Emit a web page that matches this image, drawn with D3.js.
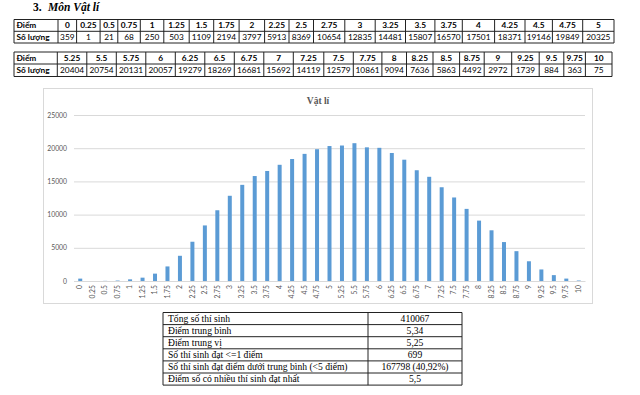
<!DOCTYPE html>
<html><head><meta charset="utf-8">
<script src="https://cdn.jsdelivr.net/npm/d3@7"></script>
<style>body{margin:0;background:#fff}svg{display:block}</style>
</head><body>
<script>
// ---------- data ----------
const scores = ["0","0.25","0.5","0.75","1","1.25","1.5","1.75","2","2.25","2.5","2.75","3","3.25","3.5","3.75","4","4.25","4.5","4.75","5",
  "5.25","5.5","5.75","6","6.25","6.5","6.75","7","7.25","7.5","7.75","8","8.25","8.5","8.75","9","9.25","9.5","9.75","10"];
const counts = [359,1,21,68,250,503,1109,2194,3797,5913,8369,10654,12835,14481,15807,16570,17501,18371,19146,19849,20325,
  20404,20754,20131,20057,19279,18269,16681,15692,14119,12579,10861,9094,7636,5863,4492,2972,1739,884,363,75];
const yTicks = [0,5000,10000,15000,20000,25000];
const rowHeaders = ["Điểm","Số lượng"];
const chartTitle = "Vật lí";
const sectionNum = "3.";
const sectionTitle = "Môn Vật lí";
const summaryLabels = ["Tổng số thí sinh","Điểm trung bình","Điểm trung vị","Số thí sinh đạt <=1 điểm",
  "Số thí sinh đạt điểm dưới trung bình (<5 điểm)","Điểm số có nhiều thí sinh đạt nhất"];
const summaryValues = ["410067","5,34","5,25","699","167798 (40,92%)","5,5"];

// ---------- layout ----------
const t1Edges = [14,58,76.6,100.1,117.8,140.3,163.8,189.2,213.7,239.1,264.6,289,313.5,344.8,375.2,405.5,434.9,462.3,494.6,525,552.4,582.7,614];
const t2Edges = [14,57.3,86.8,116.3,145.8,175.3,204.8,234.3,263.8,293.3,323.8,353.3,381.9,406.5,433,459.6,484.2,511.7,539.2,563.8,585.4,612];
const t1Rows = [19.5,31.3,43];
const t2Rows = [52,64,76.5];

const svg = d3.select("body").append("svg").attr("width",640).attr("height",395);

// section title
const tt = svg.append("text").attr("x",33).attr("y",11)
  .style("font-family","'Liberation Serif',serif").style("font-size","11.5px").style("font-weight","bold");
tt.append("tspan").text(sectionNum);
tt.append("tspan").attr("x",48).style("font-style","italic").text(sectionTitle);

function drawTable(edges, rows, labels, values){
  const g = svg.append("g");
  const x0 = edges[0], x1 = edges[edges.length-1];
  rows.forEach(y => g.append("line").attr("x1",x0).attr("x2",x1).attr("y1",y).attr("y2",y).attr("stroke","#222").attr("stroke-width",1));
  edges.forEach(x => g.append("line").attr("x1",x).attr("x2",x).attr("y1",rows[0]).attr("y2",rows[rows.length-1]).attr("stroke","#222").attr("stroke-width",1));
  const font = "Lato,'Liberation Sans',sans-serif";
  const fs = "8.3px";
  rowHeaders.forEach((h,i)=>{
    g.append("text").attr("x",edges[0]+2.5).attr("y",(rows[i]+rows[i+1])/2+3)
      .style("font-family",font).style("font-size",fs).style("font-weight","bold").text(h);
  });
  labels.forEach((l,j)=>{
    const cx = (edges[j+1]+edges[j+2])/2;
    g.append("text").attr("x",cx).attr("y",(rows[0]+rows[1])/2+3).attr("text-anchor","middle")
      .style("font-family",font).style("font-size",fs).style("font-weight","bold").text(l);
    g.append("text").attr("x",cx).attr("y",(rows[1]+rows[2])/2+3).attr("text-anchor","middle")
      .style("font-family",font).style("font-size",fs).text(values[j]);
  });
}
drawTable(t1Edges, t1Rows, scores.slice(0,21), counts.slice(0,21));
drawTable(t2Edges, t2Rows, scores.slice(21), counts.slice(21));

// ---------- chart ----------
svg.append("rect").attr("x",43.5).attr("y",88.5).attr("width",549).attr("height",215)
  .attr("fill","#fff").attr("stroke","#d9d9d9");
const px0 = 74, px1 = 585, py0 = 281, py1 = 115;
const x = d3.scaleBand().domain(scores).range([px0,px1]).paddingInner(0.68).paddingOuter(0.34);
const y = d3.scaleLinear().domain([0,25000]).range([py0,py1]);

const gy = svg.append("g").attr("transform",`translate(${px0},0)`)
  .call(d3.axisLeft(y).tickValues(yTicks).tickSize(-(px1-px0)).tickPadding(7).tickFormat(d3.format("d")));
gy.select(".domain").remove();
gy.selectAll(".tick line").attr("stroke","#d9d9d9");
gy.selectAll("text").style("font-family","Lato,'Liberation Sans',sans-serif").style("font-size","6.8px").attr("fill","#595959");

svg.append("g").selectAll("rect").data(counts).join("rect")
  .attr("x",(d,i)=>x(scores[i])).attr("width",x.bandwidth())
  .attr("y",d=>y(d)).attr("height",d=>py0-y(d)).attr("fill","#5b9bd5");

const gx = svg.append("g").attr("transform",`translate(0,${py0})`)
  .call(d3.axisBottom(x).tickSize(0));
gx.select(".domain").attr("stroke","#d9d9d9");
gx.selectAll("text").attr("transform","rotate(-90)").attr("text-anchor","end")
  .attr("x",-4).attr("y",0).attr("dy","0.32em")
  .style("font-family","Lato,'Liberation Sans',sans-serif").style("font-size","6.8px").attr("fill","#595959");

svg.append("text").attr("x",318).attr("y",104).attr("text-anchor","middle")
  .style("font-family","'Liberation Serif',serif").style("font-size","9.5px").style("font-weight","bold")
  .attr("fill","#595959").text(chartTitle);

// ---------- summary table ----------
const sx = [163,368,462];
const sy0 = 312.5, sh = 12.1;
const sg = svg.append("g");
summaryLabels.forEach((l,i)=>{
  const yy = sy0 + i*sh;
  sg.append("text").attr("x",168).attr("y",yy+sh/2+3.3)
    .style("font-family","'Liberation Serif',serif").style("font-size","9.6px").text(l);
  sg.append("text").attr("x",(sx[1]+sx[2])/2).attr("y",yy+sh/2+3.3).attr("text-anchor","middle")
    .style("font-family","'Liberation Serif',serif").style("font-size","9.6px").text(summaryValues[i]);
});
for(let i=0;i<=summaryLabels.length;i++){
  const yy = sy0+i*sh;
  sg.append("line").attr("x1",sx[0]).attr("x2",sx[2]).attr("y1",yy).attr("y2",yy).attr("stroke","#222");
}
sx.forEach(xx=>sg.append("line").attr("x1",xx).attr("x2",xx).attr("y1",sy0).attr("y2",sy0+summaryLabels.length*sh).attr("stroke","#222"));
</script>
</body></html>
